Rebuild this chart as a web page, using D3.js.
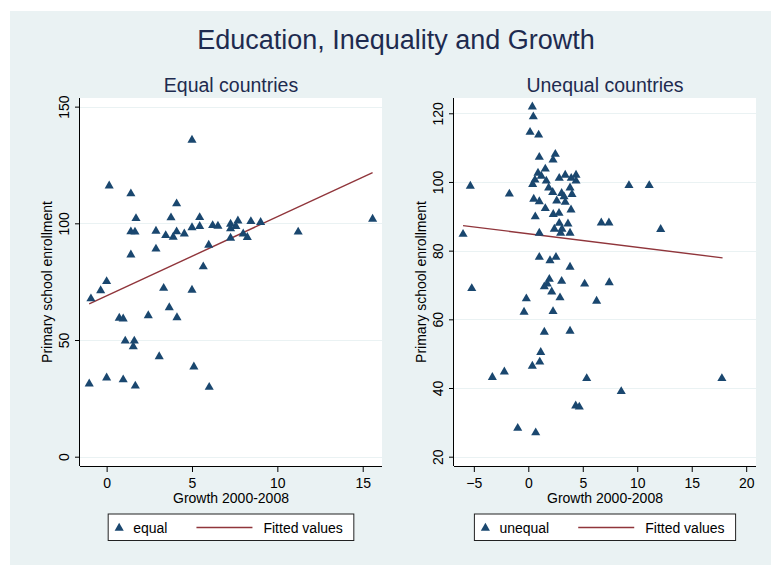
<!DOCTYPE html>
<html>
<head>
<meta charset="utf-8">
<script src="https://cdn.jsdelivr.net/npm/d3@7"></script>
<style>
  html, body { margin: 0; padding: 0; background: #ffffff; }
  svg text { font-family: "Liberation Sans", Arial, sans-serif; }
</style>
</head>
<body>
<svg id="chart" width="771" height="565"></svg>
<script>
// ---------------- DATA ----------------
const mainTitle = "Education, Inequality and Growth";
const panelTitles = ["Equal countries", "Unequal countries"];
const xAxisTitle = "Growth 2000-2008";
const yAxisTitle = "Primary school enrollment";
const seriesNames = ["equal", "unequal"];
const fitName = "Fitted values";

const equalX = [5.0, 0.15, 1.42, 4.1, 1.72, 3.77, 5.45, 15.58, 1.42, 1.66, 2.89, 3.46, 3.9, 4.1, 4.55,
  5.0, 5.45, 6.21, 6.52, 7.26, 7.26, 7.69, 7.57, 8.45, 9.02, 8.0, 8.24, 7.26, 11.22, 5.98, 2.89, 1.42, 5.66,
  0.0, -0.35, -0.92, 3.34, 5.0, 3.67, 0.74, 0.97, 2.44, 4.12, 1.09, 1.62, 1.56, 3.08, 5.11, -1.02, 0.0, 0.97, 1.68, 6.01];
const equalY = [135.7, 116.1, 112.7, 108.4, 102.1, 102.4, 102.5, 101.8, 96.4, 96.3, 96.7, 94.8, 94.1, 96.4, 95.5,
  98.2, 98.7, 99.1, 98.8, 99.7, 97.7, 101.1, 98.7, 100.8, 100.4, 95.5, 94.0, 93.7, 96.3, 90.7, 89.0, 86.5, 81.4,
  75.1, 71.2, 67.7, 72.2, 71.4, 63.9, 59.4, 59.1, 60.5, 59.6, 49.6, 49.6, 47.2, 42.9, 38.5, 31.2, 33.8, 33.0, 30.3, 29.8];

const unequalX = [0.37, 0.46, 0.16, 0.95, 1.01, 2.48, 2.27, -5.32, -1.74, 9.24, 11.1, 0.89, 1.56, 1.19, 0.61,
  0.4, 1.65, 1.87, 2.84, 3.39, 3.94, 4.38, 4.38, 2.24, 3.06, 3.83, 4.01, 3.28, 2.61, 3.39, 0.5, 1.01, 1.56,
  3.92, 2.29, 2.82, 0.64, 2.84, 3.64, 2.39, 3.09, 6.7, 7.4, 12.15, -5.99, 1.01, 2.97, 3.83, 1.01, 2.54, 1.99,
  3.83, -5.19, 1.93, 1.74, 3.06, 5.17, 7.43, 1.47, 2.15, -0.18, 2.91, 6.27, -0.39, 2.27, 1.47, 3.83, 1.14,
  1.05, 0.37, -3.3, -2.2, 5.36, 17.77, 8.53, 4.35, 4.68, -0.97, 0.68];
const unequalY = [121.9, 119.0, 114.5, 113.7, 107.2, 108.1, 106.4, 98.8, 96.5, 99.0, 99.0, 102.6, 103.8, 101.7, 100.6,
  99.3, 100.3, 98.3, 101.1, 102.0, 101.1, 102.0, 100.3, 97.0, 96.7, 98.3, 96.4, 95.7, 94.5, 94.1, 95.0, 94.3, 92.3,
  91.9, 90.6, 90.9, 89.9, 88.0, 87.8, 86.3, 86.3, 88.1, 88.1, 86.2, 84.8, 85.1, 85.1, 85.1, 78.1, 78.1, 77.1,
  75.2, 69.0, 71.7, 70.3, 71.1, 70.3, 70.7, 69.5, 68.0, 66.0, 66.3, 65.3, 62.1, 62.3, 56.3, 56.6, 50.4,
  47.6, 46.4, 43.1, 44.7, 42.8, 42.8, 39.0, 34.8, 34.5, 28.3, 27.0];

// fitted regression lines (end points)
const fitEqualX = [-1.02, 15.58];
const fitEqualY = [65.5, 121.7];
const fitUnequalX = [-5.99, 17.83];
const fitUnequalY = [87.3, 77.9];

const equalXTicks = [0, 5, 10, 15];
const equalYTicks = [0, 50, 100, 150];
const unequalXTicks = [-5, 0, 5, 10, 15, 20];
const unequalYTicks = [20, 40, 60, 80, 100, 120];

// ---------------- STYLE ----------------
const bgColor = "#eaf2f3";
const gridColor = "#eaf2f3";
const markerColor = "#1a476f";
const fitColor = "#90353b";
const titleColor = "#1e2b4f";

const svg = d3.select("#chart");

svg.append("rect").attr("x", 10).attr("y", 11).attr("width", 761).attr("height", 554).attr("fill", bgColor);

svg.append("text").attr("x", 396).attr("y", 49.3).attr("text-anchor", "middle")
  .attr("font-size", 27).attr("fill", titleColor).text(mainTitle);

const panels = [
  { left: 80, right: 382, xDom: [-1.56, 16.13], yDom: [-3.99, 153.7], xs: equalX, ys: equalY,
    fx: fitEqualX, fy: fitEqualY, xt: equalXTicks, yt: equalYTicks, title: panelTitles[0], name: seriesNames[0] },
  { left: 454, right: 756, xDom: [-6.82, 20.9], yDom: [17.29, 124.45], xs: unequalX, ys: unequalY,
    fx: fitUnequalX, fy: fitUnequalY, xt: unequalXTicks, yt: unequalYTicks, title: panelTitles[1], name: seriesNames[1] }
];
const plotTop = 98, plotBottom = 466;

panels.forEach(p => {
  const g = svg.append("g");
  const x = d3.scaleLinear().domain(p.xDom).range([p.left, p.right]);
  const y = d3.scaleLinear().domain(p.yDom).range([plotBottom, plotTop]);
  const cx = (p.left + p.right) / 2;

  // plot region
  g.append("rect").attr("x", p.left).attr("y", plotTop).attr("width", p.right - p.left)
    .attr("height", plotBottom - plotTop).attr("fill", "#ffffff");

  // gridlines
  g.append("g").selectAll("line").data(p.yt).join("line")
    .attr("x1", p.left).attr("x2", p.right)
    .attr("y1", d => Math.round(y(d)) + 0.5).attr("y2", d => Math.round(y(d)) + 0.5)
    .attr("stroke", gridColor).attr("stroke-width", 1.2);

  // fitted line
  g.append("line")
    .attr("x1", x(p.fx[0])).attr("y1", y(p.fy[0]))
    .attr("x2", x(p.fx[1])).attr("y2", y(p.fy[1]))
    .attr("stroke", fitColor).attr("stroke-width", 1.4);

  // markers
  const tri = d3.symbol().type(d3.symbolTriangle).size(36);
  g.append("g").selectAll("path").data(p.xs.map((v, i) => [v, p.ys[i]])).join("path")
    .attr("d", tri)
    .attr("transform", d => `translate(${x(d[0])},${y(d[1])})`)
    .attr("fill", markerColor);

  // x axis
  const xAxis = g.append("g").attr("transform", `translate(0,${plotBottom})`)
    .call(d3.axisBottom(x).tickValues(p.xt).tickSizeOuter(0).tickSize(6).tickPadding(4).tickFormat(d3.format("d")));
  xAxis.select(".domain").attr("stroke", "#000").attr("d", `M${p.left},0.5H${p.right}`);
  xAxis.selectAll(".tick line").attr("stroke", "#000");
  xAxis.selectAll(".tick text").attr("font-size", 14).attr("fill", "#000")
    .attr("font-family", "Liberation Sans, Arial, sans-serif").attr("dy", null).attr("y", 22);

  // y axis
  const yAxis = g.append("g").attr("transform", `translate(${p.left},0)`)
    .call(d3.axisLeft(y).tickValues(p.yt).tickSizeOuter(0).tickSize(5).tickFormat(d3.format("d")));
  yAxis.select(".domain").attr("stroke", "#000").attr("d", `M-0.5,${plotTop}V${plotBottom}`);
  yAxis.selectAll(".tick line").attr("stroke", "#000");
  yAxis.selectAll(".tick text").attr("font-size", 14).attr("fill", "#000")
    .attr("font-family", "Liberation Sans, Arial, sans-serif")
    .attr("x", null).attr("dy", null)
    .attr("text-anchor", "middle")
    .attr("transform", "translate(-11,0) rotate(-90)");

  // axis titles
  g.append("text").attr("x", cx).attr("y", 503).attr("text-anchor", "middle")
    .attr("font-size", 14).attr("fill", "#000").text(xAxisTitle);
  g.append("text").attr("transform", `translate(${p.left - 28},${(plotTop + plotBottom) / 2}) rotate(-90)`)
    .attr("text-anchor", "middle").attr("font-size", 14).attr("fill", "#000").text(yAxisTitle);

  // panel title
  g.append("text").attr("x", cx).attr("y", 92.3).attr("text-anchor", "middle")
    .attr("font-size", 19.5).attr("fill", titleColor).text(p.title);

  // legend
  const lg = g.append("g");
  const box = lg.append("rect").attr("y", 514).attr("height", 26.5)
    .attr("fill", "#fff").attr("stroke", "#222").attr("stroke-width", 1);
  const m = lg.append("path").attr("d", tri).attr("fill", markerColor);
  const t1 = lg.append("text").attr("y", 533).attr("font-size", 14).attr("fill", "#000").text(p.name);
  const ln = lg.append("line").attr("stroke", fitColor).attr("stroke-width", 1.4);
  const t2 = lg.append("text").attr("y", 533).attr("font-size", 14).attr("fill", "#000").text(fitName);
  const w1 = t1.node().getComputedTextLength();
  const w2 = t2.node().getComputedTextLength();
  const total = 25 + w1 + 29 + 56 + 11 + w2 + 11;
  const x0 = cx - total / 2;
  box.attr("x", x0).attr("width", total);
  m.attr("transform", `translate(${x0 + 11},${528})`);
  t1.attr("x", x0 + 25);
  const lx = x0 + 25 + w1 + 29;
  ln.attr("x1", lx).attr("x2", lx + 56).attr("y1", 527.5).attr("y2", 527.5);
  t2.attr("x", lx + 56 + 11);
});
</script>
</body>
</html>
